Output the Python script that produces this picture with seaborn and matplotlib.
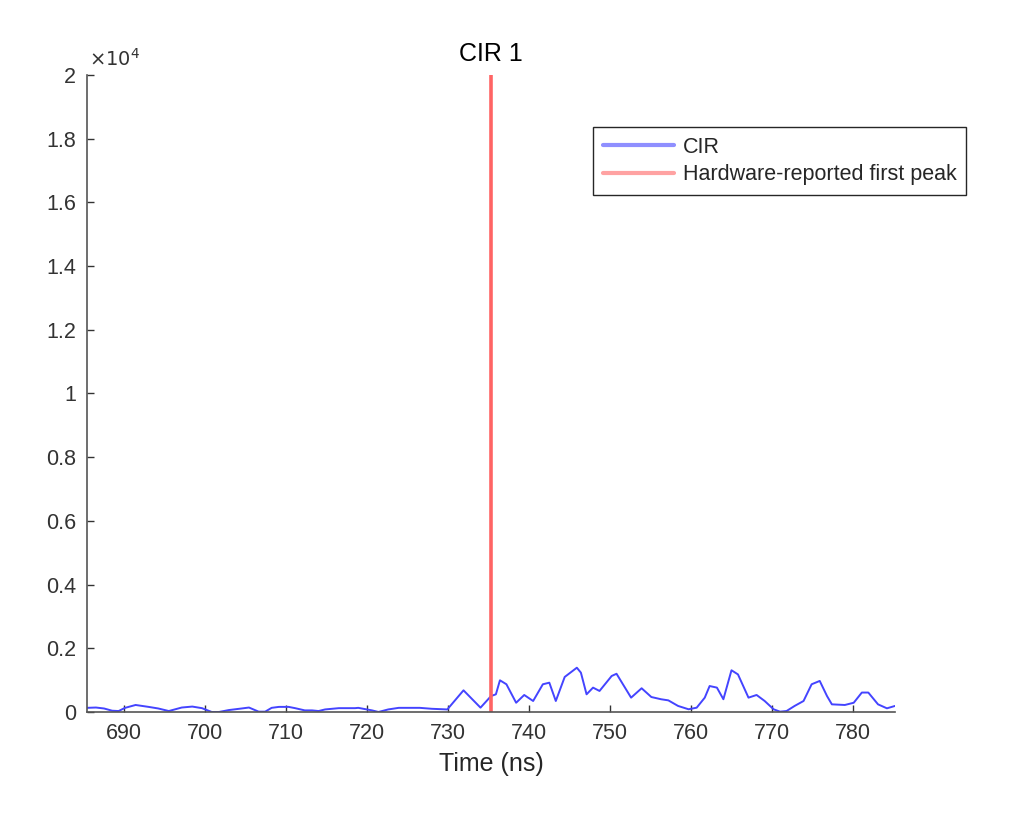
"""CIR magnitude around the hardware-reported first peak (MATLAB-style figure)."""

import matplotlib
matplotlib.use("Agg")
import matplotlib.pyplot as plt
import pandas as pd
import seaborn as sns

# sample times (ns) and CIR magnitude
time_ns = [
    685.4, 686.5, 687.5, 688.5, 689.3, 690.1, 691.4, 693.0, 694.2, 695.5,
    697.1, 698.4, 699.6, 700.8, 701.7, 702.9, 704.5, 705.4, 706.6, 707.4,
    708.2, 709.1, 710.3, 711.1, 712.3, 713.2, 714.0, 714.8, 716.5, 718.5,
    718.9, 720.6, 721.4, 722.6, 723.9, 725.3, 726.5, 728.0, 729.9, 731.9,
    734.0, 735.3, 735.9, 736.4, 737.2, 738.4, 739.4, 740.5, 741.7, 742.5,
    743.3, 744.4, 745.9, 746.4, 747.1, 747.9, 748.7, 750.2, 750.8, 752.6,
    753.9, 755.1, 756.3, 757.2, 758.4, 759.7, 760.7, 761.7, 762.3, 763.2,
    764.0, 765.0, 765.8, 767.1, 768.1, 769.1, 770.2, 771.0, 771.8, 772.8,
    773.9, 774.9, 775.9, 776.8, 777.4, 779.0, 780.1, 781.1, 781.9, 783.1,
    784.2, 785.2,
]
cir_mag = [
    130, 140, 110, 40, 30, 130, 220, 160, 110, 30,
    140, 170, 120, 0, 0, 60, 110, 140, 10, 10,
    130, 160, 160, 120, 50, 50, 30, 80, 120, 120,
    130, 50, 0, 80, 130, 130, 130, 100, 80, 680,
    136, 500, 555, 995, 870, 290, 534, 345, 870, 920,
    345, 1100, 1390, 1235, 555, 765, 660, 1130, 1200, 450,
    745, 470, 400, 365, 190, 85, 135, 450, 815, 765,
    400, 1310, 1180, 450, 534, 345, 85, 10, 30, 190,
    345, 870, 975, 500, 240, 220, 290, 610, 610, 240,
    115, 190,
]
first_peak_ns = 735.3

x_ticks = [690, 700, 710, 720, 730, 740, 750, 760, 770, 780]
y_ticks = [0, 2000, 4000, 6000, 8000, 10000, 12000, 14000, 16000, 18000, 20000]
y_tick_labels = ["0", "0.2", "0.4", "0.6", "0.8", "1", "1.2", "1.4", "1.6", "1.8", "2"]

sns.set_theme(style="white")
plt.rcParams["font.family"] = ["Liberation Sans", "DejaVu Sans"]

df = pd.DataFrame({"time": time_ns, "mag": cir_mag})

fig = plt.figure(figsize=(10.18, 8.15), dpi=100)
ax = fig.add_axes([0.0855, 0.1264, 0.7937, 0.7816])

sns.lineplot(data=df, x="time", y="mag", ax=ax, color="#4444ff", linewidth=1.4,
             label="CIR")
ax.axvline(first_peak_ns, color="#ff6464", linewidth=2.6, label="Hardware-reported first peak")

ax.set_xlim(685.4, 785.2)
ax.set_ylim(0, 20000)
ax.set_xticks(x_ticks)
ax.set_yticks(y_ticks)
ax.set_yticklabels(y_tick_labels)

for side in ("top", "right"):
    ax.spines[side].set_visible(False)
for side in ("left", "bottom"):
    ax.spines[side].set_color("#555555")
    ax.spines[side].set_linewidth(1.2)

ax.tick_params(direction="in", length=5, width=1, colors="#333333", labelsize=15.5,
               bottom=True, left=True, pad=8)
ax.set_xlabel("Time (ns)", fontsize=18, color="#262626", labelpad=6)
ax.set_ylabel("")
ax.set_title("CIR 1", fontsize=18, color="#000000", pad=10)
ax.text(0.003, 1.008, r"$\times10^{4}$", transform=ax.transAxes, fontsize=14,
        color="#333333", ha="left", va="bottom")

leg = ax.legend(loc="upper right", bbox_to_anchor=(1.088, 0.918), borderaxespad=0,
                fontsize=15.5, frameon=True, fancybox=False, framealpha=1,
                borderpad=0.45, handlelength=3.3, handletextpad=0.4, labelspacing=0.3)
leg.get_frame().set_edgecolor("#262626")
leg.get_frame().set_linewidth(1.0)
for line in leg.get_lines():
    line.set_linewidth(3)
    line.set_alpha(0.6)

fig.savefig("out.png", dpi=100)
